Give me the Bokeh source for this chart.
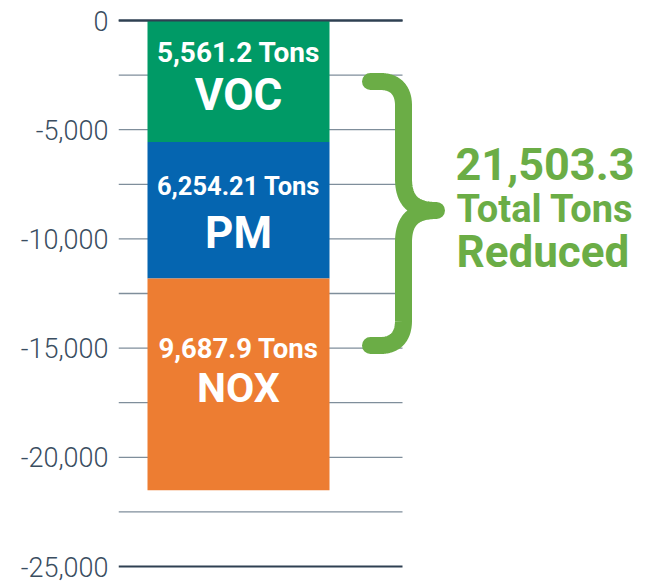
import numpy as np
from bokeh.plotting import figure
from bokeh.models import Range1d, FixedTicker, NumeralTickFormatter, ColumnDataSource
from bokeh.core.properties import value
from bokeh.embed import file_html
from bokeh.resources import INLINE

# ---------------- data ----------------
pollutants = ["VOC", "PM", "NOX"]
tons = [5561.2, 6254.21, 9687.9]
ton_labels = ["5,561.2 Tons", "6,254.21 Tons", "9,687.9 Tons"]
total_tons = 21503.3
total_lines = ["Total Tons", "Reduced"]
bar_colors = ["#009a66", "#0565b0", "#ed7d32"]
tick_values = [0, -5000, -10000, -15000, -20000, -25000]
grid_values = [0, -2500, -5000, -7500, -10000, -12500, -15000,
               -17500, -20000, -22500, -25000]

# ---------------- layout ----------------
W, H = 650, 582
LEFT = 118
frame_w = W - LEFT
top_px, bottom_px = 20, 566          # canvas px of 0 and -25000
scale = (bottom_px - top_px) / 25000.0
y_end = top_px / scale
y_start = -(H - top_px) / scale

def dx(px):
    return px - LEFT

def dy(py):
    return -(py - top_px) / scale

GREEN = "#6bad46"

p = figure(width=W, height=H, x_range=Range1d(0, frame_w),
           y_range=Range1d(y_start, y_end), output_backend="svg",
           toolbar_location=None, x_axis_location=None,
           min_border_left=LEFT, min_border_right=0,
           min_border_top=0, min_border_bottom=0)
p.outline_line_color = None
p.grid.visible = False
p.background_fill_color = "white"
p.border_fill_color = "white"

ax = p.yaxis[0]
ax.ticker = FixedTicker(ticks=tick_values)
ax.formatter = NumeralTickFormatter(format="0,0")
ax.axis_line_color = None
ax.major_tick_line_color = None
ax.minor_tick_line_color = None
ax.major_label_standoff = 4
ax.major_label_text_font = "Roboto Light, Roboto"
ax.major_label_text_font_size = "27px"
ax.major_label_text_color = "#3a4d60"

# grid lines (drawn as segments so they stop at the chart's right edge)
grid_x0, grid_x1 = dx(118), dx(402)
gcol = ["#2f4052" if v in (0, -25000) else "#7f8e9b" for v in grid_values]
gw = [2 if v in (0, -25000) else 1.3 for v in grid_values]
p.segment(x0=grid_x0, x1=grid_x1, y0=grid_values, y1=grid_values,
          line_color=gcol, line_width=gw)

# bars (stacked downward)
t = np.array(tons)
bottoms = -np.cumsum(t)
tops = bottoms + t
bar_cx = dx(238)
bar_w = dx(329) - dx(147)
src = ColumnDataSource(dict(top=tops, bottom=bottoms, color=bar_colors,
                            name=pollutants, lab=ton_labels))
p.vbar(x=bar_cx, width=bar_w, top="top", bottom="bottom",
       fill_color="color", line_color=None, source=src)
p.segment(x0=grid_x0, x1=grid_x1, y0=[0], y1=[0], line_color="#2f4052", line_width=2)

lab_y = [dy(52), dy(185.5), dy(348)]
name_y = [dy(94), dy(232.5), dy(387)]
p.text(x=bar_cx, y=lab_y, text=ton_labels, text_font=value("Roboto"),
       text_font_style="bold", text_font_size=["28px", "25.5px", "27.5px"],
       text_color="white", text_align="center", text_baseline="middle")
p.text(x=bar_cx, y=name_y, text=pollutants, text_font=value("Roboto"),
       text_font_style="bold", text_font_size=["44px", "44px", "41px"],
       text_color="white", text_align="center", text_baseline="middle")

# curly brace
def cubic(p0, p1, p2, p3, n=40):
    tt = np.linspace(0, 1, n)[:, None]
    P = [np.array(q, dtype=float) for q in (p0, p1, p2, p3)]
    return ((1 - tt) ** 3) * P[0] + 3 * (1 - tt) ** 2 * tt * P[1] + \
        3 * (1 - tt) * tt ** 2 * P[2] + tt ** 3 * P[3]

segs = [
    np.array([[370, 81], [380, 81]], dtype=float),
    cubic((380, 81), (395, 81), (403, 90), (403, 105)),
    np.array([[403, 105], [403, 178]], dtype=float),
    cubic((403, 178), (403, 200), (413, 210), (436, 210)),
    cubic((436, 210), (413, 210), (403, 220), (403, 242)),
    np.array([[403, 242], [403, 320]], dtype=float),
    cubic((403, 320), (403, 336), (395, 345), (380, 345)),
    np.array([[380, 345], [370, 345]], dtype=float),
]
path = np.vstack(segs)
p.line(x=[dx(v) for v in path[:, 0]], y=[dy(v) for v in path[:, 1]],
       line_color=GREEN, line_width=17, line_cap="round", line_join="round")

p.text(x=[dx(455)], y=[dy(163.5)], text=[f"{total_tons:,.1f}"],
       text_font=value("Roboto"), text_font_style="bold",
       text_font_size="45px", text_color=GREEN,
       text_align="left", text_baseline="middle")
p.text(x=[dx(456), dx(456)], y=[dy(208.5), dy(251)], text=total_lines,
       text_font=value("Roboto"), text_font_style="bold",
       text_font_size=["38px", "44px"], text_color=GREEN,
       text_align="left", text_baseline="middle")

open("out.html", "w").write(file_html(p, INLINE))
